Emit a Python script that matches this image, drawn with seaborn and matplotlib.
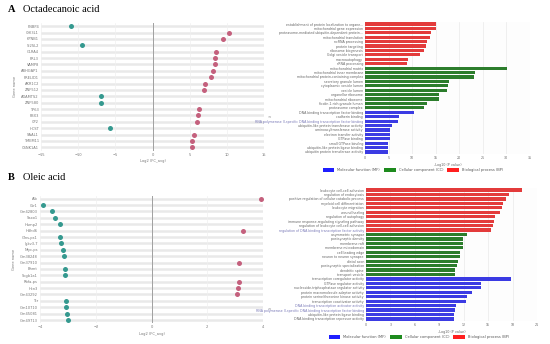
import matplotlib
matplotlib.use("Agg")
import matplotlib.pyplot as plt
from matplotlib.patches import Patch
import seaborn as sns
import pandas as pd

# ---- data: panel A genes ----
genes_a = ['PNBP4', 'CHI3L1', 'KPNB1', 'SI2SL2', 'GLRA4', 'PRL3', 'VAMP8', 'ARHGAP1',
           'PRELID1', 'AKR1C2', 'ZNF512', 'ADAMTS2', 'ZNF580', 'TP63', 'PBX3', 'CP2',
           'HCST', 'SAAL1', 'TMEM11', 'CSNK1A1']
fc_a = [-10.9, 10.3, 9.5, -9.5, 8.5, 8.4, 8.4, 8.2, 7.85, 7.1, 6.95, -6.9, -6.9,
        6.3, 6.1, 6.0, -5.7, 5.65, 5.3, 5.25]

# ---- data: panel B genes ----
genes_b = ['Alb', 'Ctr1', 'Gm42803', 'Saxo1', 'Hamp2', 'Hdhd6', 'Glns-ps1', 'Igkv3-7',
           'Nfyc-ps', 'Gm38248', 'Gm37910', 'Bhmt', 'Scgb1a1', 'Rbfa-ps', 'Hcn3',
           'Gm43292', 'Ttr', 'Gm10710', 'Gm45081', 'Gm49713']
fc_b = [3.93, -3.88, -3.56, -3.45, -3.29, 3.27, -3.27, -3.23, -3.17, -3.14, 3.14,
        -3.11, -3.11, 3.13, 3.11, 3.08, -3.05, -3.05, -3.02, -3.01]

# ---- data: panel A GO terms ----
terms_a = ['establishment of protein localization to organe...', 'mitochondrial gene expression',
           'proteasome-mediated ubiquitin-dependent protein...', 'mitochondrial translation',
           'ncRNA processing', 'protein targeting', 'ribosome biogenesis', 'Golgi vesicle transport',
           'macroautophagy', 'rRNA processing',
           'mitochondrial matrix', 'mitochondrial inner membrane',
           'mitochondrial protein-containing complex', 'secretory granule lumen',
           'cytoplasmic vesicle lumen', 'vesicle lumen', 'organellar ribosome',
           'mitochondrial ribosome', 'ficolin-1-rich granule lumen', 'proteasome complex',
           'DNA-binding transcription factor binding', 'cadherin binding',
           'RNA polymerase II-specific DNA-binding transcription factor binding',
           'ubiquitin-like protein transferase activity', 'aminoacyltransferase activity',
           'electron transfer activity', 'GTPase binding', 'small GTPase binding',
           'ubiquitin-like protein ligase binding', 'ubiquitin protein transferase activity']
logp_a = [15.1, 15.1, 14.0, 13.7, 13.05, 12.85, 12.55, 11.6, 9.2, 9.0,
          30.2, 23.3, 23.1, 17.9, 17.6, 17.4, 15.6, 15.6, 13.1, 12.5,
          10.4, 7.3, 6.9, 5.8, 5.4, 5.4, 5.4, 4.9, 4.9, 4.9]

# ---- data: panel B GO terms ----
terms_b = ['leukocyte cell-cell adhesion', 'regulation of endocytosis',
           'positive regulation of cellular catabolic process', 'myeloid cell differentiation',
           'leukocyte migration', 'wound healing', 'regulation of autophagy',
           'immune response-regulating signaling pathway',
           'regulation of leukocyte cell-cell adhesion',
           'regulation of DNA-binding transcription factor activity',
           'asymmetric synapse', 'postsynaptic density', 'membrane raft', 'membrane microdomain',
           'cell leading edge', 'neuron to neuron synapse', 'distal axon',
           'postsynaptic specialization', 'dendritic spine', 'transport vesicle',
           'transcription coregulator activity', 'GTPase regulator activity',
           'nucleoside-triphosphatase regulator activity', 'protein macromolecule adaptor activity',
           'protein serine/threonine kinase activity', 'transcription coactivator activity',
           'DNA-binding transcription activator activity',
           'RNA polymerase II-specific DNA-binding transcription factor binding',
           'ubiquitin-like protein ligase binding', 'DNA-binding transcription repressor activity']
logp_b = [19.1, 17.6, 17.15, 16.8, 16.7, 16.5, 15.9, 15.7, 15.55, 15.4,
          12.4, 11.95, 11.95, 11.95, 11.6, 11.6, 11.3, 11.2, 10.97, 10.97,
          17.8, 14.1, 14.1, 13.0, 12.45, 12.3, 11.1, 10.97, 10.8, 10.8]

go_cats = ['Biological process (BP)'] * 10 + ['Cellular component (CC)'] * 10 + \
          ['Molecular function (MF)'] * 10
go_colors = {'Molecular function (MF)': '#1f1fff',
             'Cellular component (CC)': '#1e8b1e',
             'Biological process (BP)': '#ff1f1f'}
dot_colors = {'down': '#35998f', 'up': '#c4607d'}

W, H = 550, 344
fig = plt.figure(figsize=(5.5, 3.44), dpi=100)
fig.patch.set_facecolor('white')


def box(x0, y0, x1, y1):
    return [x0 / W, 1 - y1 / H, (x1 - x0) / W, (y1 - y0) / H]


def dot_panel(rect, genes, vals, lim, ticks):
    ax = fig.add_axes(rect)
    df = pd.DataFrame({'gene': genes, 'fc': vals})
    df['dir'] = ['up' if v > 0 else 'down' for v in vals]
    n = len(genes)
    for i in range(n):
        ax.axhline(i, color='#e9e9e9', lw=1.8, zorder=0)
    for t in ticks:
        ax.axvline(t, color='#f0f0f0', lw=0.5, zorder=0.5)
    ax.axvline(0, color='#a0a0a0', lw=0.7, zorder=1)
    sns.stripplot(data=df, x='fc', y='gene', hue='dir', palette=dot_colors, jitter=False,
                  size=3.6, linewidth=0, ax=ax, legend=False, zorder=3, order=genes)
    ax.set_xlim(lim)
    ax.set_ylim(n - 0.5, -0.5)
    ax.set_xticks(ticks)
    ax.tick_params(axis='both', labelsize=2.6, colors='#777777', length=0, pad=1.5)
    ax.set_ylabel('Gene name', fontsize=2.6, color='#777777', labelpad=3)
    ax.set_xlabel('Log2 (FC_avg)', fontsize=2.6, color='#777777', labelpad=2)
    for s in ax.spines.values():
        s.set_visible(False)
    return ax


def bar_panel(rect, terms, vals, xmax, step, blue_labels):
    ax = fig.add_axes(rect)
    ax.set_facecolor('#fdfdfd')
    df = pd.DataFrame({'term': terms, 'val': vals, 'cat': go_cats})
    sns.barplot(data=df, x='val', y='term', hue='cat', palette=go_colors, dodge=False,
                orient='h', width=0.72, ax=ax, legend=False, order=terms, zorder=3,
                linewidth=0)
    ax.set_xlim(0, xmax)
    ax.set_xticks(list(range(0, xmax + 1, step)))
    ax.grid(axis='x', color='#e9e9e9', lw=0.5, zorder=0)
    ax.set_axisbelow(True)
    ax.tick_params(axis='both', labelsize=2.3, colors='#666666', length=0, pad=1.5)
    ax.set_ylabel('')
    ax.set_xlabel('-Log10 (P value)', fontsize=2.4, color='#666666', labelpad=2)
    for lab in ax.get_yticklabels():
        if lab.get_text() in blue_labels:
            lab.set_color('#7a7ab8')
    for s in ax.spines.values():
        s.set_visible(False)
    ax.spines['left'].set_visible(True)
    ax.spines['left'].set_color('#cccccc')
    ax.spines['left'].set_linewidth(0.4)
    return ax


def go_legend(cx, cy):
    handles = [Patch(facecolor=go_colors[k], label=k) for k in
               ['Molecular function (MF)', 'Cellular component (CC)', 'Biological process (BP)']]
    fig.legend(handles=handles, loc='center', bbox_to_anchor=(cx / W, 1 - cy / H), ncol=3,
               frameon=False, fontsize=2.6, handlelength=3.2, handleheight=1.2,
               columnspacing=1.2, handletextpad=0.8, labelcolor='#555555')


dot_panel(box(41, 23, 264, 150.5), genes_a, fc_a, (-15, 15), [-15, -10, -5, 0, 5, 10, 15])
dot_panel(box(40, 195.5, 263, 323.2), genes_b, fc_b, (-4, 4), [-4, -2, 0, 2, 4])

blue = {'RNA polymerase II-specific DNA-binding transcription factor binding',
        'regulation of DNA-binding transcription factor activity',
        'DNA-binding transcription activator activity'}
bar_panel(box(365, 21.8, 530, 154.2), terms_a, logp_a, 35, 5, blue)
bar_panel(box(366, 187.8, 537, 321.2), terms_b, logp_b, 21, 3, blue)
go_legend(413, 170)
go_legend(419, 337)

# panel titles
for y, letter, name in [(9, 'A', 'Octadecanoic acid'), (177, 'B', 'Oleic acid')]:
    fig.text(8 / W, 1 - y / H, letter, fontsize=7.5, fontweight='bold',
             family='Liberation Serif', va='center', ha='left')
    fig.text(23 / W, 1 - y / H, name, fontsize=7.5, family='Liberation Serif',
             va='center', ha='left')

fig.text(268 / W, 1 - 116.5 / H, '≈', fontsize=3, color='#999999', va='center')
fig.text(268 / W, 1 - 308 / H, '≈', fontsize=3, color='#999999', va='center')

fig.savefig('out.png', dpi=100)
